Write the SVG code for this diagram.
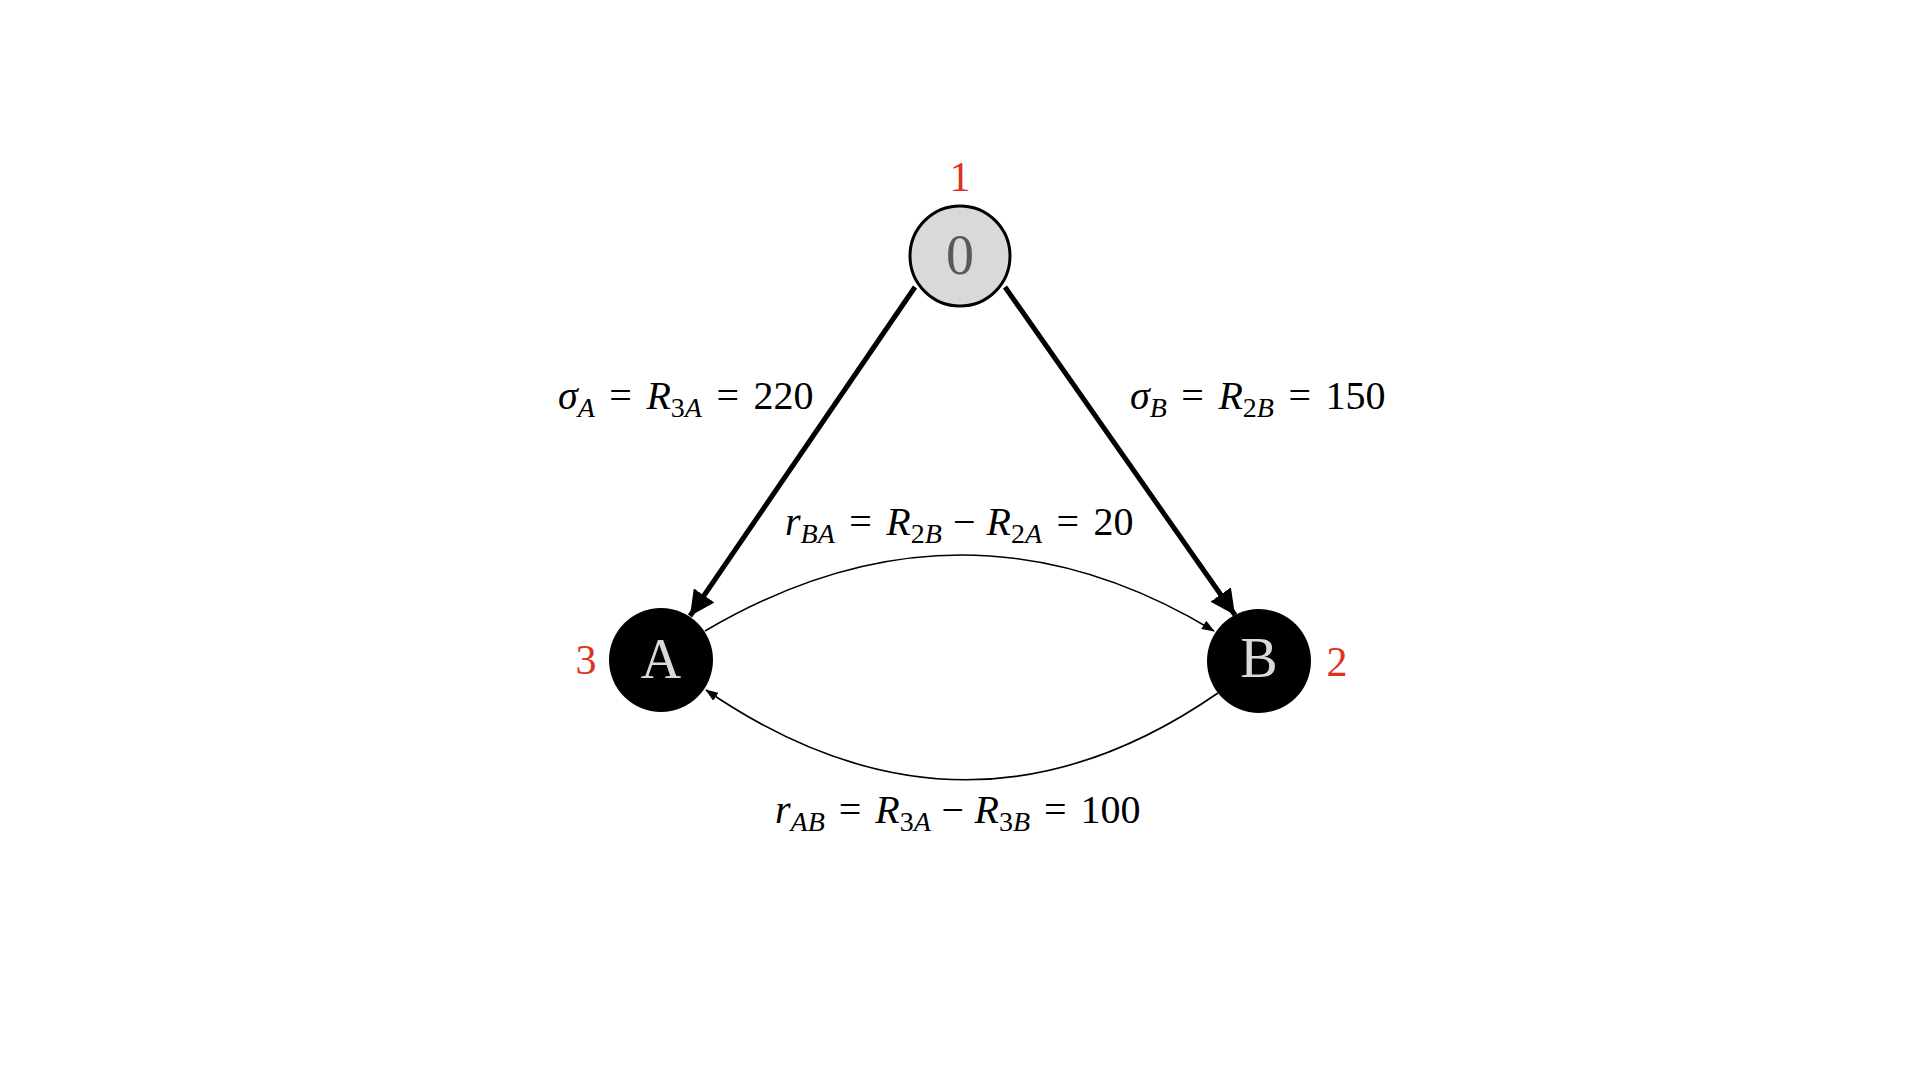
<svg xmlns="http://www.w3.org/2000/svg" width="1920" height="1080" viewBox="0 0 1920 1080">
<style>
.lbl{font-family:"Liberation Serif","Times New Roman",serif;font-size:40px;fill:#000}
.it{font-style:italic}
.sub{font-size:28px}
.red{font-family:"Liberation Serif","Times New Roman",serif;font-size:42px;fill:#e0301e}
.nt{font-family:"Liberation Serif","Times New Roman",serif;font-size:56px;text-anchor:middle}
</style>
<defs>
<marker id="big" markerWidth="6" markerHeight="5" refX="5" refY="2.5" orient="auto" markerUnits="strokeWidth">
<path d="M0,0 L5,2.5 L0,5 Z" fill="#000"/>
</marker>
<marker id="small" markerWidth="8" markerHeight="6" refX="7.5" refY="3" orient="auto" markerUnits="strokeWidth">
<path d="M0,0 L8,3 L0,6 Z" fill="#000"/>
</marker>
</defs>
<rect width="1920" height="1080" fill="#fff"/>
<g id="connectors" fill="none" stroke="#000">
<line x1="915" y1="287" x2="690" y2="616" stroke-width="5" marker-end="url(#big)"/>
<line x1="1005" y1="287" x2="1235" y2="615" stroke-width="5" marker-end="url(#big)"/>
<path d="M705,631 Q963,479 1214,631" stroke-width="1.6" marker-end="url(#small)"/>
<path d="M1218,693 Q965,868 706,690" stroke-width="1.6" marker-end="url(#small)"/>
</g>
<g id="node-0">
<circle cx="960" cy="256" r="50" fill="#d9d9d9" stroke="#000" stroke-width="3"/>
<text class="nt" x="960" y="274" fill="#595959">0</text>
<text class="red" x="960" y="191" text-anchor="middle">1</text>
</g>
<g id="node-A">
<circle cx="661" cy="660" r="52" fill="#000"/>
<text class="nt" x="661" y="678" fill="#d9d9d9">A</text>
<text class="red" x="586" y="674" text-anchor="middle">3</text>
</g>
<g id="node-B">
<circle cx="1259" cy="661" r="52" fill="#000"/>
<text class="nt" x="1259" y="677" fill="#d9d9d9">B</text>
<text class="red" x="1337" y="676" text-anchor="middle">2</text>
</g>
<g id="labels">
<text class="lbl" x="558" y="409"><tspan class="it">σ</tspan><tspan class="it sub" dy="8">A</tspan><tspan dy="-8"> </tspan><tspan dx="4.5">=</tspan><tspan dx="4.5"> </tspan><tspan class="it">R</tspan><tspan class="sub" dy="8">3</tspan><tspan class="it sub">A</tspan><tspan dy="-8"> </tspan><tspan dx="4.5">=</tspan><tspan dx="4.5"> 220</tspan></text>
<text class="lbl" x="1130" y="409"><tspan class="it">σ</tspan><tspan class="it sub" dy="8">B</tspan><tspan dy="-8"> </tspan><tspan dx="4.5">=</tspan><tspan dx="4.5"> </tspan><tspan class="it">R</tspan><tspan class="sub" dy="8">2</tspan><tspan class="it sub">B</tspan><tspan dy="-8"> </tspan><tspan dx="4.5">=</tspan><tspan dx="4.5"> 150</tspan></text>
<text class="lbl" x="785" y="535"><tspan class="it">r</tspan><tspan class="it sub" dy="8">BA</tspan><tspan dy="-8"> </tspan><tspan dx="4.5">=</tspan><tspan dx="4.5"> </tspan><tspan class="it">R</tspan><tspan class="sub" dy="8">2</tspan><tspan class="it sub">B</tspan><tspan dy="-8"> </tspan><tspan dx="1">−</tspan><tspan dx="1"> </tspan><tspan class="it">R</tspan><tspan class="sub" dy="8">2</tspan><tspan class="it sub">A</tspan><tspan dy="-8"> </tspan><tspan dx="4.5">=</tspan><tspan dx="4.5"> 20</tspan></text>
<text class="lbl" x="775" y="823"><tspan class="it">r</tspan><tspan class="it sub" dy="8">AB</tspan><tspan dy="-8"> </tspan><tspan dx="4">=</tspan><tspan dx="4"> </tspan><tspan class="it">R</tspan><tspan class="sub" dy="8">3</tspan><tspan class="it sub">A</tspan><tspan dy="-8"> </tspan><tspan dx="0.5">−</tspan><tspan dx="0.5"> </tspan><tspan class="it">R</tspan><tspan class="sub" dy="8">3</tspan><tspan class="it sub">B</tspan><tspan dy="-8"> </tspan><tspan dx="4">=</tspan><tspan dx="4"> 100</tspan></text>
</g>
</svg>
